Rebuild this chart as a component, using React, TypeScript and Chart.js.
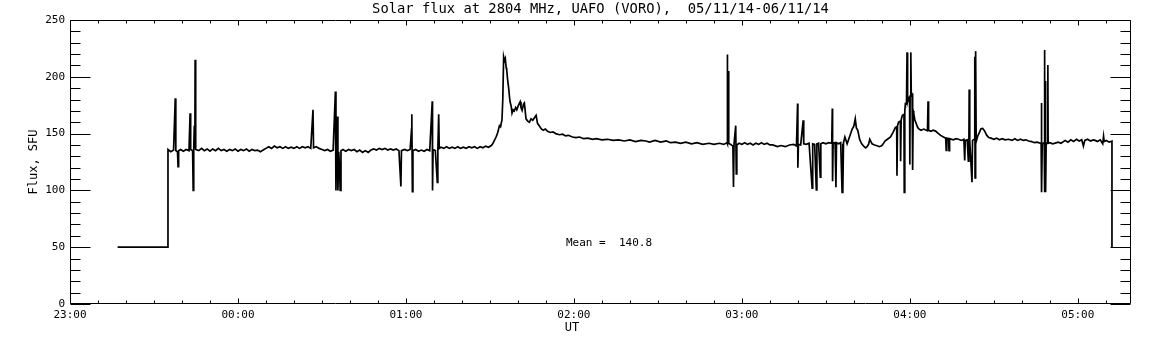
import React, { useEffect, useRef } from "react";
import { Chart, registerables } from "chart.js";

Chart.register(...registerables);

// ---- Chart text ----
const chartTitle = "Solar flux at 2804 MHz, UAFO (VORO),  05/11/14-06/11/14";
const yAxisTitle = "Flux, SFU";
const xAxisTitle = "UT";
const meanText = "Mean =  140.8";

// ---- Axes ----
const hourLabels = ["23:00", "00:00", "01:00", "02:00", "03:00", "04:00", "05:00"];
const yTickValues = [0, 50, 100, 150, 200, 250];
const xMinMinutes = 0; // minutes after 23:00 UT
const xMaxMinutes = 379;

// ---- Data: [minutes after 23:00 UT, flux in SFU] ----
const calibrationSamples: [number, number][] = [
  [17, 50], [35, 50], [35, 136],
];

const quietSamples: [number, number][] = [
  [36, 134], [37, 135.5], [37.6, 181], [37.8, 135], [38.4, 134], [38.6, 121], [38.8, 135],
  [39.5, 136], [40.5, 134.5], [41.5, 136], [42.5, 135], [42.9, 168], [43.1, 136],
  [43.8, 135], [44.0, 100], [44.2, 136], [44.4, 157], [44.6, 137], [44.7, 215], [44.9, 136],
  [46, 135], [47, 137], [48, 135], [49, 136.5], [50, 134.5], [51, 136.5], [52, 135],
  [53, 137], [54, 135], [55, 136], [56, 134.5], [57, 136], [58, 135], [59, 136.5],
  [60, 134.5], [61, 136], [62, 135], [63, 136.5], [64, 134.5], [65, 136], [66, 135],
  [67, 135.5], [68, 134], [69, 135.5], [70, 137], [71, 138.5], [72, 137], [73, 139],
  [74, 137.5], [75, 138.5], [76, 137], [77, 138.5], [78, 137], [79, 138], [80, 137],
  [81, 138.5], [82, 137], [83, 138.5], [84, 137.5], [85, 138.5], [86, 137], [86.8, 171],
  [87, 137.5], [88, 138.5], [89, 137], [90, 136], [91, 135], [92, 136], [93, 134.5],
  [94, 135.5], [94.8, 187], [95, 100], [95.2, 136], [95.3, 118], [95.5, 165], [95.7, 100],
  [96, 134], [96.3, 120], [96.5, 100], [96.8, 135], [97.5, 136], [98.5, 134.5], [99.5, 136],
  [100.5, 135], [101.5, 136], [102.5, 134], [103.5, 135.5], [104.5, 133.5], [105.5, 135],
  [106.5, 133.5], [107.5, 135.5], [108.5, 136.5], [109.5, 135.5], [110.5, 137], [111.5, 136],
  [112.5, 137], [113.5, 135.5], [114.5, 136.5], [115.5, 135.5], [116.5, 136.5], [117.5, 135],
  [118.2, 103.5], [118.4, 135], [119.5, 136], [120.5, 135], [121.5, 136], [122.0, 154],
  [122.1, 167], [122.3, 99], [122.5, 135], [123.5, 136], [124.5, 134.5], [125.5, 135.5],
  [126.5, 134.5], [127.5, 136], [128.5, 135], [129.4, 178.5], [129.5, 100], [129.7, 136],
  [130.5, 135], [131.2, 107], [131.4, 136], [131.7, 167], [131.9, 137], [132.5, 138],
  [133.5, 137], [134.5, 138.5], [135.5, 137], [136.5, 138], [137.5, 137], [138.5, 138.5],
  [139.5, 137], [140.5, 138], [141.5, 137], [142.5, 138.5], [143.5, 137.5], [144.5, 138.5],
  [145.5, 137], [146.5, 138.5], [147.5, 137.5], [148.5, 139], [149.5, 138], [150.5, 139.5],
];

const flareSamples: [number, number][] = [
  [151, 141], [151.6, 144], [152.2, 147], [152.8, 151], [153.4, 157], [153.8, 156],
  [154.3, 162], [154.6, 180], [154.9, 217.5], [155.2, 214], [155.5, 216], [155.8, 208],
  [156, 206], [156.3, 198], [156.7, 190], [157, 182], [157.2, 178], [157.6, 174],
  [157.9, 168], [158.3, 171], [158.7, 170], [159.2, 173], [159.6, 171], [160.2, 175],
  [160.8, 178], [161.1, 173], [161.5, 170.5], [162, 176], [162.3, 177], [162.6, 170],
  [162.9, 163], [163.5, 161], [164.1, 160], [164.7, 163], [165.3, 161.7], [165.9, 164],
  [166.5, 166], [167, 159], [167.6, 157], [168.3, 154.3], [169, 153], [169.8, 154],
  [170.6, 152], [171.5, 151], [172.5, 151.5], [173.5, 150], [174.8, 149], [176, 149.5],
  [177, 148], [178, 148.5], [179.5, 147], [180.7, 146.5], [182, 147], [183.5, 145.5],
  [185, 146], [186.7, 145], [188, 145.5], [190, 144.5], [192, 145], [194, 144],
  [196, 144.5], [198, 143.5], [200, 144.5], [202, 143], [204, 144], [205.7, 143.5],
  [207, 142.5], [209, 144], [211, 142.5], [213, 143.5], [214.5, 142], [216.4, 142.5],
  [218, 141.5], [220, 142.5], [222, 141], [224, 142], [226, 140.5], [228.3, 141.5],
  [230, 140.5], [232, 141.5], [233.5, 140.5],
];

const middaySamples: [number, number][] = [
  [234.7, 142], [234.8, 219.7], [234.9, 141], [235.1, 205], [235.3, 141.5], [236, 140.5],
  [236.8, 139], [237, 103], [237.2, 141], [237.8, 157], [238.0, 114.6], [238.2, 140],
  [239, 141.5], [240, 140.5], [241, 142], [242, 140.5], [243, 141.5], [244, 140],
  [245, 141.5], [246, 140.5], [247, 142], [248, 140.5], [249, 141.5], [250, 140],
  [251, 140], [252.7, 138.5], [254, 139.5], [255.5, 138.5], [257, 140], [258.5, 140.5],
  [259.5, 139], [259.9, 176.4], [260.0, 120], [260.2, 140.5], [261, 140], [261.9, 161.7],
  [262.1, 141], [263, 140.5], [264, 141.5], [265.1, 102], [265.3, 141], [266, 140.5],
  [266.6, 100.4], [266.8, 141], [267.4, 141.5], [268, 111.6], [268.2, 141], [269, 142],
  [270, 141], [271, 142], [272.1, 141.5], [272.3, 172], [272.4, 108], [272.6, 141.5],
  [273.3, 142], [273.6, 102.8], [273.8, 142], [274.5, 141], [275.3, 142], [275.8, 98.3],
  [276.0, 141], [276.1, 98.3], [276.3, 142],
];

const activeSamples: [number, number][] = [
  [276.8, 147], [277.6, 141], [278.5, 147.5], [279.4, 154], [280, 156.5], [280.5, 163],
  [280.9, 155], [281.4, 152.8], [282.1, 144.6], [282.8, 141], [283.6, 138.7], [284.2, 137.5],
  [284.8, 138.7], [285.3, 141], [285.7, 145], [286.5, 141], [287.4, 140], [288.3, 139.3],
  [289.1, 138.5], [289.9, 139.3], [290.5, 141], [291.1, 143.4], [292, 145], [293.1, 147],
  [294, 151], [294.8, 155.2], [295.3, 156], [295.4, 113], [295.6, 157], [296, 160.2],
  [296.6, 161], [296.7, 125.7], [296.9, 162], [297.3, 166], [297.9, 167], [298, 98.3],
  [298.2, 170], [298.4, 176.4], [298.8, 176], [299.0, 221.5], [299.2, 178], [299.6, 182],
  [299.9, 182.3], [300.0, 122.8], [300.1, 183], [300.3, 212], [300.4, 221.5], [300.5, 186],
  [300.8, 185.2], [301.0, 118], [301.2, 170], [301.4, 167.6], [301.8, 162], [302.3, 158.7],
  [302.7, 156], [303.1, 154.3], [304, 153], [305, 154], [305.5, 153.4], [306.3, 152.5],
  [306.5, 178.5], [306.7, 153], [307.5, 152], [308.3, 153], [309.2, 152.2], [310, 150.5],
  [311, 148.4], [312, 147], [312.8, 146], [313, 135.2], [313.2, 146], [313.8, 145.5],
  [314, 135], [314.2, 145.5], [315.5, 144.5], [316.5, 145.5], [317.4, 145], [318.4, 144],
  [319.3, 145], [319.6, 126.3], [319.8, 144], [320.5, 144.5], [320.9, 125.7], [321.1, 144],
  [321.2, 188.8], [321.4, 143.5], [322.2, 107.2], [322.4, 144], [323.0, 145], [323.2, 217.6],
  [323.3, 111], [323.5, 222.6], [323.7, 143], [324.2, 147.5], [325, 152], [325.4, 154.3],
  [326, 154.5], [326.6, 152.8], [327.5, 148.4], [328.2, 146.5], [329, 146], [330, 145],
  [331, 146], [332, 144.5], [333, 145.5], [334, 144.5], [335.3, 145], [336.5, 144],
  [337.5, 145.5], [338.5, 144], [339.5, 145], [340.5, 144], [341.5, 144.5], [342.4, 143.5],
  [343.5, 143], [344.5, 142], [345.5, 142.5], [346.6, 141.5], [346.9, 141], [347.0, 177],
  [347.1, 98.3], [347.3, 141], [348.0, 142], [348.1, 223.5], [348.2, 98.3], [348.4, 196.4],
  [348.5, 98.3], [348.7, 141], [349.2, 142], [349.3, 210.3], [349.4, 141.5], [350, 142],
  [351, 141], [351.9, 141.6], [353, 142.5], [354, 141.5], [355.5, 144], [356.5, 142.5],
  [357.5, 144.5], [358.5, 143], [359.5, 145], [360.5, 143.5], [361.4, 144.6], [362, 139],
  [362.5, 144], [363.5, 145], [364.5, 143.5], [365.5, 144.5], [366.2, 144], [367, 143],
  [368, 144.5], [368.9, 141], [369.2, 147.5], [369.4, 143], [370.2, 144], [371.2, 142.5],
  [372.2, 143.4], [372.2, 50],
];

const monoFont = "'DejaVu Sans Mono', 'Liberation Mono', monospace";

const idlFramePlugin = {
  id: "idlFrame",
  afterDraw(chart: any) {
    const { ctx, chartArea } = chart;
    const xs = chart.scales.x;
    const ys = chart.scales.y;
    const { left, right, top, bottom } = chartArea;
    ctx.save();
    ctx.strokeStyle = "#000";
    ctx.lineWidth = 1;
    ctx.beginPath();
    const L = Math.round(left) + 0.5;
    const R = Math.round(right) - 0.5;
    const T = Math.round(top) + 0.5;
    const B = Math.round(bottom) - 0.5;
    ctx.rect(L, T, R - L, B - T);
    // y ticks (inside, both sides)
    for (let v = 0; v <= 250; v += 10) {
      const y = Math.round(ys.getPixelForValue(v)) + 0.5;
      const len = yTickValues.includes(v) ? 20 : 10;
      ctx.moveTo(L, y);
      ctx.lineTo(L + len, y);
      ctx.moveTo(R, y);
      ctx.lineTo(R - len, y);
    }
    // x ticks (inside, top and bottom)
    for (let m = xMinMinutes; m <= xMaxMinutes; m += 10) {
      const x = Math.round(xs.getPixelForValue(m)) + 0.5;
      const len = m % 60 === 0 ? 5 : 3;
      ctx.moveTo(x, B);
      ctx.lineTo(x, B - len);
      ctx.moveTo(x, T);
      ctx.lineTo(x, T + len);
    }
    ctx.stroke();

    ctx.fillStyle = "#000";
    // title
    ctx.font = `13.8px ${monoFont}`;
    ctx.textAlign = "center";
    ctx.textBaseline = "middle";
    ctx.fillText(chartTitle, (left + right) / 2, 9);
    // x title
    ctx.font = `12px ${monoFont}`;
    ctx.fillText(xAxisTitle, 572, 328);
    // mean annotation
    ctx.font = `11px ${monoFont}`;
    ctx.textAlign = "left";
    ctx.fillText(meanText, 566, 243);
    // y title
    ctx.save();
    ctx.translate(34, (top + bottom) / 2);
    ctx.rotate(-Math.PI / 2);
    ctx.textAlign = "center";
    ctx.font = `12px ${monoFont}`;
    ctx.fillText(yAxisTitle, 0, 0);
    ctx.restore();
    ctx.restore();
  },
};

export default function App() {
  const canvasRef = useRef<HTMLCanvasElement | null>(null);

  useEffect(() => {
    if (!canvasRef.current) return;
    const points = [
      ...calibrationSamples,
      ...quietSamples,
      ...flareSamples,
      ...middaySamples,
      ...activeSamples,
    ].map(([x, y]) => ({ x, y }));

    const chart = new Chart(canvasRef.current, {
      type: "line",
      data: {
        datasets: [
          {
            data: points,
            borderColor: "#000",
            borderWidth: 1.7,
            pointRadius: 0,
            fill: false,
            tension: 0,
            borderJoinStyle: "miter",
          },
        ],
      },
      options: {
        responsive: true,
        maintainAspectRatio: false,
        animation: false,
        events: [],
        layout: { padding: { left: 0, right: 21, top: 20, bottom: 0 } },
        plugins: {
          legend: { display: false },
          tooltip: { enabled: false },
          title: { display: false },
        },
        scales: {
          x: {
            type: "linear",
            min: xMinMinutes,
            max: xMaxMinutes,
            grid: { display: false, drawTicks: false },
            border: { display: false },
            afterFit: (s: any) => {
              s.height = 41;
            },
            ticks: {
              stepSize: 60,
              includeBounds: false,
              autoSkip: false,
              maxRotation: 0,
              minRotation: 0,
              padding: 5,
              color: "#000",
              font: { family: monoFont, size: 11 },
              callback: (v: any) => hourLabels[Math.round(Number(v) / 60)] ?? "",
            },
          },
          y: {
            type: "linear",
            min: 0,
            max: 250,
            grid: { display: false, drawTicks: false },
            border: { display: false },
            afterFit: (s: any) => {
              s.width = 70;
            },
            ticks: {
              stepSize: 50,
              padding: 5,
              color: "#000",
              font: { family: monoFont, size: 11 },
              callback: (v: any) => (yTickValues.includes(Number(v)) ? String(v) : ""),
            },
          },
        },
      },
      plugins: [idlFramePlugin],
    });
    return () => chart.destroy();
  }, []);

  return (
    <div
      style={{
        position: "fixed",
        left: 0,
        top: 0,
        width: 1152,
        height: 345,
        background: "#fff",
      }}
    >
      <canvas ref={canvasRef} />
    </div>
  );
}
